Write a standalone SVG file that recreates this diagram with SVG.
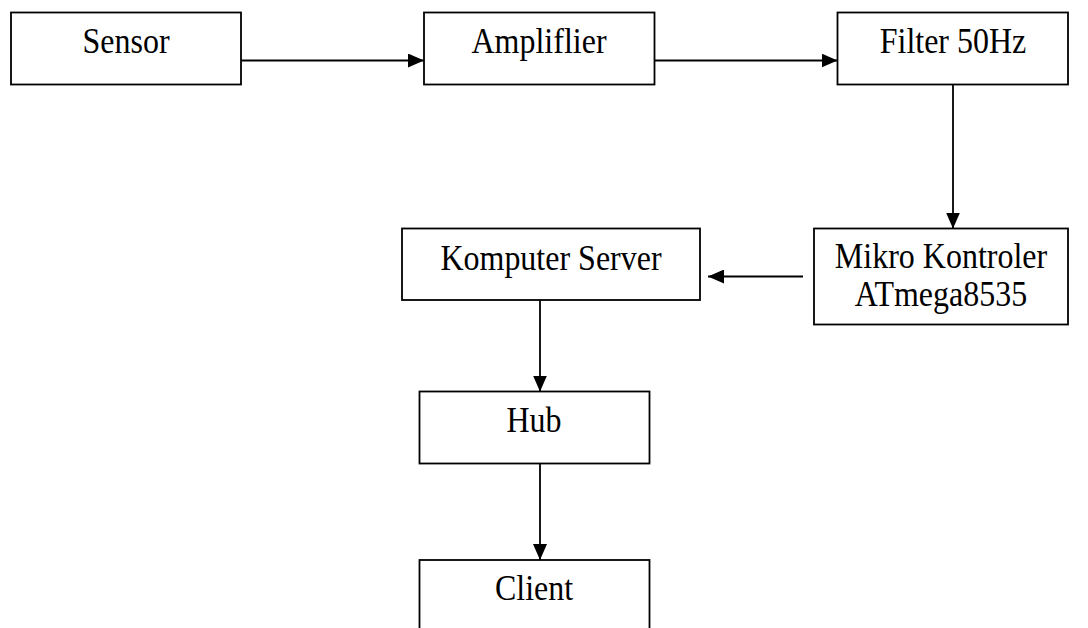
<svg xmlns="http://www.w3.org/2000/svg" width="1088" height="628" viewBox="0 0 1088 628">
<style>
.box{fill:#fff;stroke:#000;stroke-width:1.8}
.lbl{font-family:"Liberation Serif","Times New Roman",serif;font-size:32px;fill:#000;text-anchor:middle}
.con{fill:none;stroke:#000;stroke-width:1.8}
</style>
<defs>
<marker id="ah" viewBox="0 0 16 14" refX="16" refY="7" markerWidth="16" markerHeight="14" markerUnits="userSpaceOnUse" orient="auto">
<path d="M0,0 L16,7 L0,14 z" fill="#000"/>
</marker>
</defs>
<rect width="1088" height="628" fill="#fff"/>
<g id="connectors">
<path class="con" d="M241,60.5 H424" marker-end="url(#ah)"/>
<path class="con" d="M654.5,60.5 H837.5" marker-end="url(#ah)"/>
<path class="con" d="M953,84.5 V228.5" marker-end="url(#ah)"/>
<path class="con" d="M803,276.5 H708" marker-end="url(#ah)"/>
<path class="con" d="M540,300 V391.5" marker-end="url(#ah)"/>
<path class="con" d="M540,463.5 V560" marker-end="url(#ah)"/>
</g>
<g id="sensor">
<rect class="box" x="11" y="12.5" width="230" height="72"/>
<text class="lbl" transform="translate(126,53) scale(1,1.12)">Sensor</text>
</g>
<g id="amplifier">
<rect class="box" x="424" y="12.5" width="230.5" height="72"/>
<text class="lbl" transform="translate(539,53) scale(1,1.12)">Ampliflier</text>
</g>
<g id="filter">
<rect class="box" x="837.5" y="12.5" width="230.5" height="72"/>
<text class="lbl" transform="translate(953,53) scale(1,1.12)">Filter 50Hz</text>
</g>
<g id="mikro">
<rect class="box" x="814" y="228.5" width="254" height="96"/>
<text class="lbl" transform="translate(941,268) scale(1,1.12)">Mikro Kontroler</text>
<text class="lbl" transform="translate(941,306) scale(1,1.12)">ATmega8535</text>
</g>
<g id="komputer">
<rect class="box" x="402" y="228.5" width="298" height="71.5"/>
<text class="lbl" transform="translate(551,270) scale(1,1.12)">Komputer Server</text>
</g>
<g id="hub">
<rect class="box" x="419.5" y="391.5" width="230" height="72"/>
<text class="lbl" transform="translate(534,431.5) scale(1,1.12)">Hub</text>
</g>
<g id="client">
<rect class="box" x="419.5" y="560" width="230" height="80"/>
<text class="lbl" transform="translate(534,600) scale(1,1.12)">Client</text>
</g>
</svg>
